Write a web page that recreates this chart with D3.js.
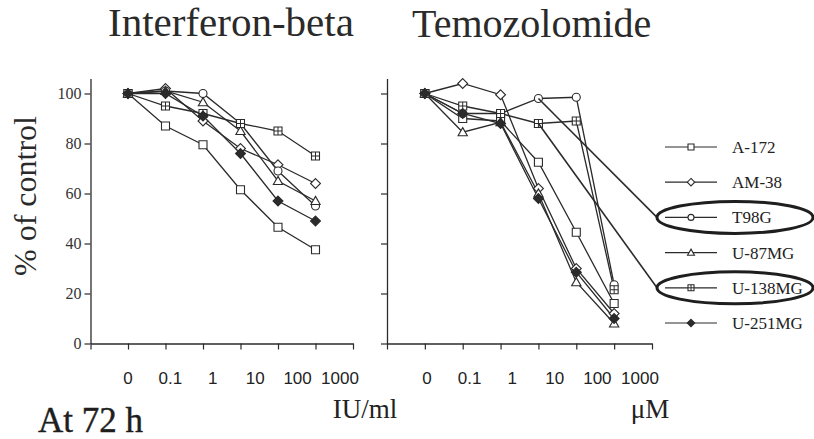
<!DOCTYPE html>
<html>
<head>
<meta charset="utf-8">
<script src="https://cdn.jsdelivr.net/npm/d3@7"></script>
<style>
  html, body { margin: 0; padding: 0; background: #fff; }
  svg { display: block; }
</style>
</head>
<body>
<svg id="chart" width="814" height="439"></svg>
<script>
// ---------------- data ----------------
const doses = ["0", "0.1", "1", "10", "100", "1000"];
const cellLines = ["A-172", "AM-38", "T98G", "U-87MG", "U-138MG", "U-251MG"];
const markerTypes = ["square", "diamond", "circle", "triangle", "squarePlus", "diamondFilled"];
const yTicks = [0, 20, 40, 60, 80, 100];

// Interferon-beta (IU/ml), % of control
const ifn_A172   = [100, 87, 79.5, 61.5, 46.5, 37.5];
const ifn_AM38   = [100, 102, 89, 78, 71.5, 64];
const ifn_T98G   = [100, 101, 100, 88, 69, 55];
const ifn_U87MG  = [100, 101, 96.5, 85, 65, 57];
const ifn_U138MG = [100, 95, 92, 88, 85, 75];
const ifn_U251MG = [100, 100, 91, 76, 57, 49];

// Temozolomide (µM), % of control
const tmz_A172   = [100, 90, 89, 72.5, 44.5, 16];
const tmz_AM38   = [100, 104, 99.5, 62, 30, 12];
const tmz_T98G   = [100, 92, 92, 98, 98.5, 23.5];
const tmz_U87MG  = [100, 84.5, 88.5, 60, 24.5, 8];
const tmz_U138MG = [100, 95, 92, 88, 89, 21.5];
const tmz_U251MG = [100, 92, 88, 58, 28.5, 10];

const ifnSeries = [ifn_A172, ifn_AM38, ifn_T98G, ifn_U87MG, ifn_U138MG, ifn_U251MG];
const tmzSeries = [tmz_A172, tmz_AM38, tmz_T98G, tmz_U87MG, tmz_U138MG, tmz_U251MG];
const highlighted = ["T98G", "U-138MG"];
const highlightDoseIndex = 3;

// ---------------- drawing ----------------
const svg = d3.select("#chart");
const INK = "#2b2b2b";
const SERIF = "'Liberation Serif', 'Times New Roman', serif";
const SANS = "'Liberation Sans', Arial, sans-serif";

const y = d3.scaleLinear().domain([0, 106]).range([343.5, 78.5]);

function symbolPath(type, size) {
  const s = size;
  switch (type) {
    case "square":
    case "squarePlus":
      return d3.symbol(d3.symbolSquare, s * s)();
    case "circle":
      return d3.symbol(d3.symbolCircle, Math.PI * (s / 2) * (s / 2))();
    case "diamond":
    case "diamondFilled": {
      const h = s * 0.62;
      return `M0,${-h}L${h},0L0,${h}L${-h},0Z`;
    }
    case "triangle": {
      const h = s * 0.58;
      return `M0,${-h}L${h},${h * 0.75}L${-h},${h * 0.75}Z`;
    }
  }
}

function drawMarker(g, type, cx, cy, size) {
  const m = g.append("g").attr("transform", `translate(${cx},${cy})`);
  m.append("path")
    .attr("d", symbolPath(type, size))
    .attr("fill", type === "diamondFilled" ? INK : "#fff")
    .attr("stroke", INK)
    .attr("stroke-width", 1.1);
  if (type === "squarePlus") {
    const h = size / 2;
    m.append("path")
      .attr("d", `M${-h},0H${h}M0,${-h}V${h}`)
      .attr("stroke", INK).attr("stroke-width", 1);
  }
}

function drawPanel(x0, x1, labelX0, labelX1, series, showYLabels, unit, unitX) {
  const xi = d3.scaleLinear().domain([-1, 6]).range([x0, x1]);
  const xLab = d3.scaleLinear().domain([0, 5]).range([labelX0, labelX1]);
  const g = svg.append("g");

  // x axis (ticks only)
  const xAxis = g.append("g")
    .attr("transform", `translate(0,${y(0)})`)
    .call(d3.axisBottom(xi).tickValues(d3.range(-1, 7)).tickFormat("").tickSize(6).tickSizeOuter(0));
  xAxis.select(".domain").attr("stroke", INK).attr("stroke-width", 1.3);
  xAxis.selectAll(".tick line").attr("stroke", INK).attr("stroke-width", 1.2);

  // x labels
  g.selectAll(".xl").data(doses).enter().append("text")
    .attr("x", (d, i) => xLab(i))
    .attr("y", 384)
    .attr("text-anchor", "middle")
    .attr("font-family", SANS)
    .attr("font-size", 17)
    .attr("fill", "#222")
    .text(d => d);

  // y axis
  const yAxis = g.append("g")
    .attr("transform", `translate(${x0},0)`)
    .call(d3.axisLeft(y).tickValues(yTicks).tickSize(6).tickSizeOuter(0)
      .tickFormat(showYLabels ? d3.format("d") : ""));
  yAxis.select(".domain").attr("stroke", INK).attr("stroke-width", 1.3);
  yAxis.selectAll(".tick line").attr("stroke", INK).attr("stroke-width", 1.2);
  yAxis.selectAll(".tick text")
    .attr("font-family", SERIF).attr("font-size", 16).attr("fill", "#333").attr("x", -9);

  // lines
  const line = d3.line().x((d, i) => xi(i)).y(d => y(d));
  series.forEach(vals => {
    g.append("path").datum(vals)
      .attr("d", line)
      .attr("fill", "none")
      .attr("stroke", INK)
      .attr("stroke-width", 1.3);
  });
  // markers
  series.forEach((vals, si) => {
    vals.forEach((v, i) => drawMarker(g, markerTypes[si], xi(i), y(v), 8));
  });

  // unit
  g.append("text")
    .attr("x", unitX).attr("y", 418)
    .attr("text-anchor", "middle")
    .attr("font-family", SERIF).attr("font-size", 27).attr("fill", "#222")
    .text(unit);

  return { xi };
}

const left = drawPanel(90.5, 353, 128, 340, ifnSeries, true, "IU/ml", 365);
const right = drawPanel(387, 652, 427, 640, tmzSeries, false, "\u03bcM", 650);

// titles
svg.append("text").attr("x", 108).attr("y", 36)
  .attr("font-family", SERIF).attr("font-size", 41).attr("fill", "#2a2a2a")
  .text("Interferon-beta");
svg.append("text").attr("x", 412).attr("y", 37)
  .attr("font-family", SERIF).attr("font-size", 40).attr("fill", "#2a2a2a")
  .text("Temozolomide");

// y label
svg.append("text")
  .attr("transform", "translate(36,196) rotate(-90)")
  .attr("text-anchor", "middle")
  .attr("font-family", SERIF).attr("font-size", 32).attr("fill", "#2a2a2a")
  .text("% of control");

// At 72 h
svg.append("text").attr("x", 38).attr("y", 432)
  .attr("font-family", SERIF).attr("font-size", 35).attr("fill", "#1e1e1e")
  .attr("stroke", "#1e1e1e").attr("stroke-width", 0.4)
  .text("At 72 h");

// legend
const legY = d3.scaleLinear().domain([0, 5]).range([147, 323]);
const leg = svg.append("g");
cellLines.forEach((name, i) => {
  const cy = legY(i);
  leg.append("line").attr("x1", 665).attr("x2", 717).attr("y1", cy).attr("y2", cy)
    .attr("stroke", INK).attr("stroke-width", 1.2);
  drawMarker(leg, markerTypes[i], 691, cy, 6);
  leg.append("text").attr("x", 732).attr("y", cy + 6)
    .attr("font-family", SERIF).attr("font-size", 17).attr("fill", "#222")
    .text(name);
});

// highlight ellipses and connectors
highlighted.forEach(name => {
  const si = cellLines.indexOf(name);
  const cy = legY(si);
  const ex = 735, rx = 78, ry = 16;
  svg.append("line")
    .attr("x1", right.xi(highlightDoseIndex))
    .attr("y1", y(tmzSeries[si][highlightDoseIndex]))
    .attr("x2", ex - rx).attr("y2", cy)
    .attr("stroke", INK).attr("stroke-width", 1.6);
  svg.append("ellipse")
    .attr("cx", ex).attr("cy", cy).attr("rx", rx).attr("ry", ry)
    .attr("fill", "none").attr("stroke", "#1e1e1e").attr("stroke-width", 3);
});
</script>
</body>
</html>
